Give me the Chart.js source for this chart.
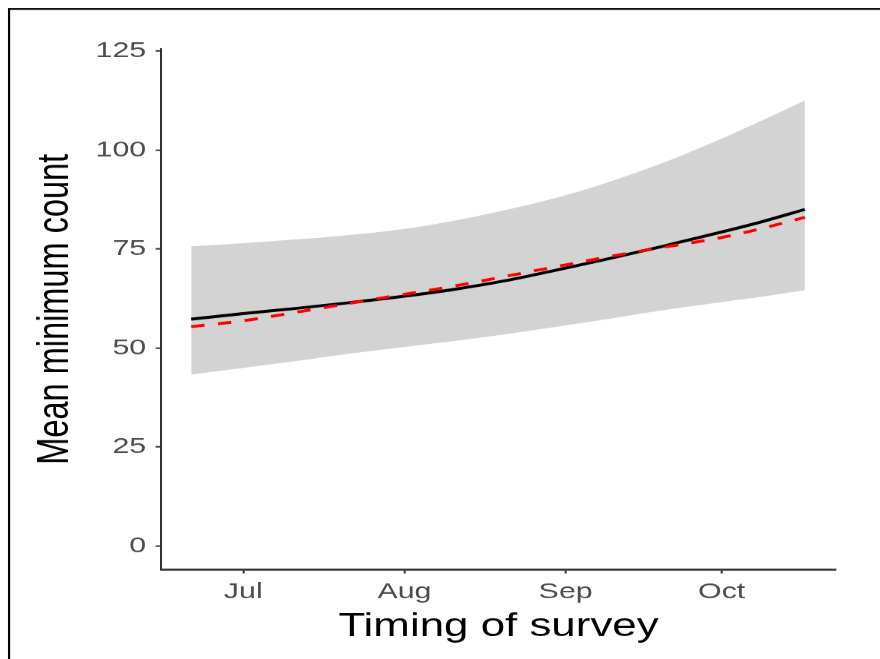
<!DOCTYPE html>
<html>
<head>
<meta charset="utf-8">
<script src="https://cdn.jsdelivr.net/npm/chart.js@4.4.1/dist/chart.umd.min.js"></script>
<style>
  html, body { margin: 0; padding: 0; background: #fff; }
  /* the reference picture is stretched sideways, so the canvas is too */
  #plot { display: block; width: 880px !important; height: 659px !important; }
</style>
</head>
<body>
<canvas id="plot" width="652" height="659"></canvas>
<script>
// days counted from 1 July
var monthDays = [0, 31, 62, 92];
var monthLabels = ['Jul', 'Aug', 'Sep', 'Oct'];
var yTicks = [0, 25, 50, 75, 100, 125];

var days     = [-10, 0, 10, 20, 31, 40, 50, 62, 70, 80, 92, 100, 108];
var upper    = [75.7, 76.5, 77.4, 78.5, 80.1, 82.0, 84.7, 88.6, 91.8, 96.4, 102.9, 107.6, 112.5];
var lower    = [43.3, 45.0, 46.7, 48.5, 50.3, 51.7, 53.4, 55.7, 57.3, 59.4, 61.6, 63.0, 64.6];
var fitted   = [57.3, 58.7, 60.0, 61.4, 63.1, 64.7, 66.9, 70.2, 72.5, 75.5, 79.3, 82.0, 85.0];
var observed = [55.4, 56.9, 59.0, 61.2, 63.6, 65.5, 68.0, 71.0, 73.0, 75.3, 77.9, 80.3, 83.0];

function pts(vals) {
  return days.map(function (d, i) { return {x: d, y: vals[i]}; });
}

// frame round the picture (top and left edges)
var frame = {
  id: 'frame',
  afterDraw: function (chart) {
    var c = chart.ctx;
    c.save();
    c.strokeStyle = '#000';
    c.lineWidth = 1.6;
    c.beginPath();
    c.moveTo(6.7, 659);
    c.lineTo(6.7, 9);
    c.lineTo(652, 9);
    c.stroke();
    c.restore();
  }
};

var tickFont = {family: '"Liberation Sans", Arial, sans-serif', size: 22.5};
var titleFont = {family: '"Liberation Sans", Arial, sans-serif', size: 32.5, lineHeight: 1};

new Chart(document.getElementById('plot'), {
  type: 'line',
  data: {
    datasets: [
      { // red dashed
        data: pts(observed),
        borderColor: '#ff0000',
        borderWidth: 2.9,
        borderDash: [10, 10],
        pointRadius: 0,
        fill: false,
        cubicInterpolationMode: 'monotone'
      },
      { // black fitted line
        data: pts(fitted),
        borderColor: '#000000',
        borderWidth: 2.9,
        pointRadius: 0,
        fill: false,
        cubicInterpolationMode: 'monotone'
      },
      { // ribbon top
        data: pts(upper),
        borderWidth: 0,
        borderColor: 'rgba(0,0,0,0)',
        backgroundColor: '#d3d3d3',
        pointRadius: 0,
        fill: 3,
        cubicInterpolationMode: 'monotone'
      },
      { // ribbon bottom
        data: pts(lower),
        borderWidth: 0,
        borderColor: 'rgba(0,0,0,0)',
        pointRadius: 0,
        fill: false,
        cubicInterpolationMode: 'monotone'
      }
    ]
  },
  options: {
    responsive: false,
    devicePixelRatio: 1.35,
    animation: false,
    layout: { padding: {left: 20, right: 32.7, top: 49, bottom: 6} },
    plugins: { legend: {display: false}, tooltip: {enabled: false} },
    scales: {
      x: {
        type: 'linear',
        min: -15.8,
        max: 114,
        afterBuildTicks: function (s) { s.ticks = monthDays.map(function (v) { return {value: v}; }); },
        afterFit: function (s) { s.height = 84; },
        border: {display: true, color: '#333', width: 2},
        grid: {drawOnChartArea: false, drawTicks: true, tickLength: 4, tickColor: '#333', tickWidth: 1.5},
        ticks: {
          color: '#4d4d4d',
          font: tickFont,
          padding: 5,
          maxRotation: 0,
          callback: function (v) { var i = monthDays.indexOf(v); return i < 0 ? '' : monthLabels[i]; }
        },
        title: {display: true, text: 'Timing of survey', color: '#000', font: titleFont, padding: {top: 0, bottom: 10}}
      },
      y: {
        min: -5.9,
        max: 125.5,
        afterBuildTicks: function (s) { s.ticks = yTicks.map(function (v) { return {value: v}; }); },
        afterFit: function (s) { s.width = 99.3; },
        border: {display: true, color: '#333', width: 1.5},
        grid: {drawOnChartArea: false, drawTicks: true, tickLength: 4, tickColor: '#333', tickWidth: 1.5},
        ticks: { color: '#4d4d4d', font: tickFont, padding: 7 },
        title: {display: true, text: 'Mean minimum count', color: '#000', font: titleFont, padding: {top: 5, bottom: 0}}
      }
    }
  },
  plugins: [frame]
});
</script>
</body>
</html>
